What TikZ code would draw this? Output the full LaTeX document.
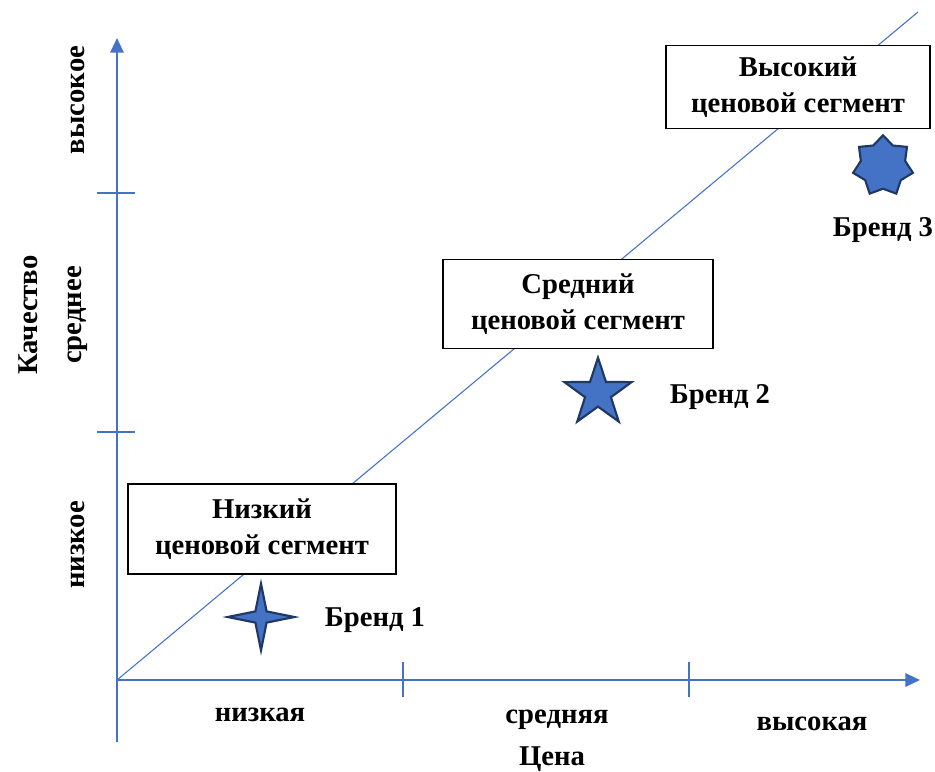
\documentclass[tikz,border=0pt]{standalone}
\usepackage{fontspec}
\setmainfont{Liberation Serif}
\usetikzlibrary{positioning, arrows.meta, shapes.geometric}
\definecolor{axisblue}{HTML}{4472C4}
\definecolor{stardark}{HTML}{203864}

\begin{document}
\begin{tikzpicture}[x=0.75pt, y=-0.75pt, font=\bfseries\fontsize{21.5}{26.5}\selectfont,
  >={Triangle[length=11pt, width=10pt]},
  axis/.style={draw=axisblue, line width=1.6pt},
  seg/.style={draw, line width=0.9pt, fill=white, align=center, inner sep=2pt},
  brand/.style={star, draw=stardark, line width=1.6pt, fill=axisblue, inner sep=0pt},
  lvl/.style={rotate=90},
]
  \useasboundingbox (0,0) rectangle (935,771);
  \coordinate (O) at (117,680);
  \coordinate (yTop) at (117,38);
  \coordinate (yBot) at (117,742);
  \coordinate (xEnd) at (920,680);
  \coordinate (diagEnd) at (918,12);

  % diagonal behind the boxes
  \draw[axisblue, line width=0.8pt] (O) -- (diagEnd);

  \draw[axis, ->] (yBot) -- (yTop);
  \draw[axis, ->] (O) -- (xEnd);
  \foreach \ty in {193,432} {
    \draw[axis] (97,\ty) -- (135,\ty);
  }
  \foreach \tx in {403,689} {
    \draw[axis] (\tx,662) -- (\tx,697);
  }

  % price levels and quality levels
  \foreach \xn/\xx/\xy/\xtxt in {1/260/715/низкая, 2/557/720/средняя, 3/812/724/высокая} {
    \node (P\xn) at (\xx,\xy) {\xtxt};
  }
  \foreach \xn/\xy/\xtxt in {1/545/низкое, 2/315/среднее, 3/100/высокое} {
    \node[lvl] (Q\xn) at (78,\xy) {\xtxt};
  }
  \node[inner sep=0pt] (price) at (552,759) {Цена};
  \node[lvl] (quality) at (28,315) {Качество};

  % segments
  \node[seg, minimum width=201pt, minimum height=67.5pt] (low) at (262,529) {Низкий\\ценовой сегмент};
  \node[seg, minimum width=202.5pt, minimum height=67pt] (mid) at (578,304) {Средний\\ценовой сегмент};
  \node[seg, minimum width=198pt, minimum height=62pt] (high) at (798,87) {Высокий\\ценовой сегмент};

  % brands
  \node[brand, star points=4, star point ratio=4.2, minimum size=50pt] (b1) at (261,617) {};
  \node[brand, star points=5, star point ratio=2.6, minimum size=53pt] (b2) at (598,393) {};
  \node[brand, star points=7, star point ratio=1.35, minimum size=46pt] (b3) at (883,166) {};
  \node (b1lbl) at (375,620) {Бренд 1};
  \node (b2lbl) at (720,397) {Бренд 2};
  \node (b3lbl) at (883,230) {Бренд 3};
\end{tikzpicture}
\end{document}
